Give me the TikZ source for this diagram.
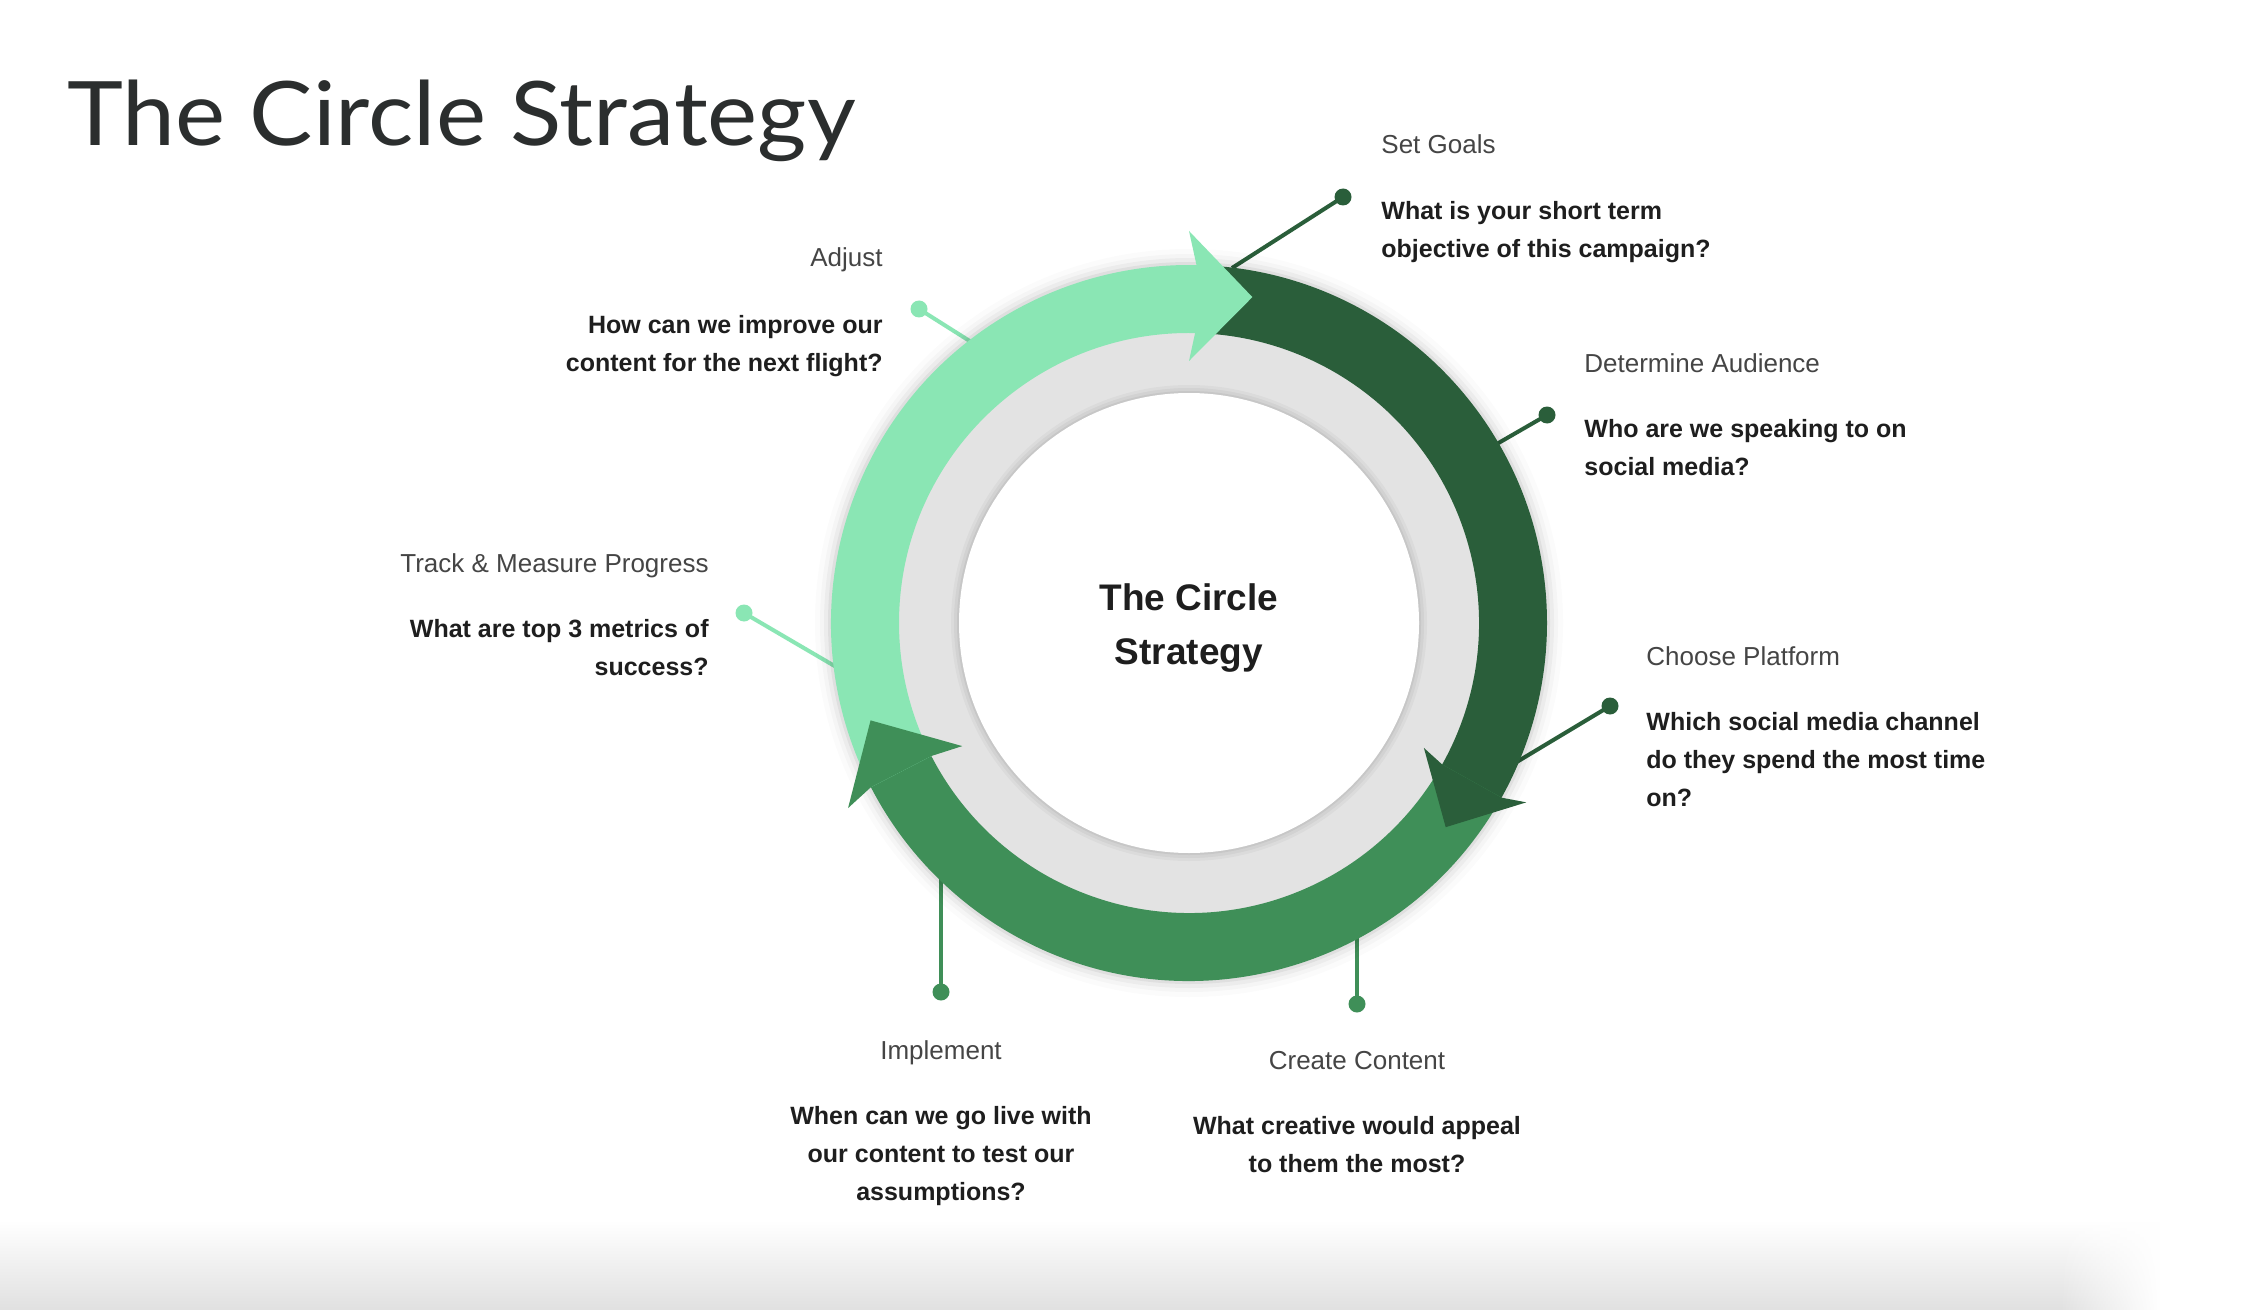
\documentclass[tikz,border=0pt]{standalone}
\usepackage{fontspec}
\setmainfont{Liberation Sans}
\newfontfamily\titlefont{Lato}
\usetikzlibrary{calc,fadings}
\definecolor{mint}{HTML}{8AE6B4}
\definecolor{forest}{HTML}{2A5E3A}
\definecolor{leaf}{HTML}{3F8F58}
\definecolor{ringgrey}{HTML}{E3E3E3}
\definecolor{labelgrey}{HTML}{454545}
\definecolor{qblack}{HTML}{1E1E1E}
\definecolor{titlegrey}{HTML}{2B2E2E}
\begin{document}
\begin{tikzpicture}[x=0.5pt,y=0.5pt,
  lbl/.style={font=\fontsize{13}{19}\selectfont, text=labelgrey, inner sep=0},
  qst/.style={font=\bfseries\fontsize{12.5}{19}\selectfont, text=qblack, inner sep=0},
  dotnode/.style={circle, inner sep=0, minimum size=8.5pt, fill=#1},
  conn/.style={line width=2pt, draw=#1},
]
\path[use as bounding box, fill=white] (0,0) rectangle (2252,-1310);
\shade[top color=white, bottom color=black!12] (0,-1220) rectangle (2060,-1310);
\shade[top color=white, bottom color=black!12, path fading=east] (2059,-1220) rectangle (2160,-1310);

% title
\node[anchor=base west, inner sep=0, font=\titlefont\fontsize{44.5}{50}\selectfont, text=titlegrey] (title) at (67,-146) {\scalebox{1.065}[1]{The Circle Strategy}};

\coordinate (C) at (1189,-623);

% connector end points on the ring and dots
\coordinate (rgoals) at (1232,-268);
\coordinate (raud) at (1495,-445);
\coordinate (rplat) at (1510,-766);
\coordinate (rcreate) at (1357,-925);
\coordinate (rimpl) at (941,-872);
\coordinate (rtrack) at (838,-668);
\coordinate (radj) at (976,-345);

\node[dotnode=forest] (dgoals) at (1343,-197) {};
\node[dotnode=forest] (daud) at (1547,-415) {};
\node[dotnode=forest] (dplat) at (1610,-706) {};
\node[dotnode=leaf] (dcreate) at (1357,-1004) {};
\node[dotnode=leaf] (dimpl) at (941,-992) {};
\node[dotnode=mint] (dtrack) at (744,-613) {};
\node[dotnode=mint] (dadj) at (919,-309) {};

\draw[conn=forest] (rgoals) -- (dgoals.center);
\draw[conn=forest] (raud) -- (daud.center);
\draw[conn=forest] (rplat) -- (dplat.center);
\draw[conn=leaf] (rcreate) -- (dcreate.center);
\draw[conn=leaf] (rimpl) -- (dimpl.center);
\draw[conn=mint] (rtrack) -- (dtrack.center);
\draw[conn=mint] (radj) -- (dadj.center);

% soft shadow
\foreach \r/\o in {374/0.015,369/0.025,365/0.035,361/0.05}
  \fill[black, opacity=\o] (C) circle[radius=\r];

% grey ring and white centre
\fill[ringgrey] (C) circle[radius=292];
\foreach \r/\o in {238/0.03,235/0.04,232/0.05}
  \fill[black, opacity=\o] (C) circle[radius=\r];
\fill[white] (C) circle[radius=230];

% arc bodies (each starts at the shaft joint of the previous head and ends under its own head)
\fill[forest] ($(C)+(88.8:358)$) arc[start angle=88.8, end angle=-30, radius=358]
  -- ($(C)+(-30:290)$) arc[start angle=-30, end angle=88.8, radius=290] -- cycle;
\fill[leaf] ($(C)+(-29.2:358)$) arc[start angle=-29.2, end angle=-153.5, radius=358]
  -- ($(C)+(-153.5:290)$) arc[start angle=-153.5, end angle=-29.2, radius=290] -- cycle;
\fill[mint] ($(C)+(207.3:358)$) arc[start angle=207.3, end angle=88, radius=358]
  -- ($(C)+(88:290)$) arc[start angle=88, end angle=207.3, radius=290] -- cycle;

% arrow heads (barbs slightly swept back)
\fill[mint] ($(C)+(90:262)$) -- ($(C)+(79:332)$) -- ($(C)+(90:392)$)
  -- ($(C)+(88.8:358)$) -- ($(C)+(88.8:290)$) -- cycle;
\fill[forest] ($(C)+(-28:266)$) -- ($(C)+(-38.5:328)$) -- ($(C)+(-28:382)$)
  -- ($(C)+(-29.2:358)$) -- ($(C)+(-29.2:290)$) -- cycle;
\fill[leaf] ($(C)+(208.5:258)$) -- ($(C)+(197:333)$) -- ($(C)+(208.5:388)$)
  -- ($(C)+(207.3:358)$) -- ($(C)+(207.3:290)$) -- cycle;

% centre text
\node[font=\bfseries\fontsize{18.5}{27}\selectfont, text=qblack, align=center, inner sep=0] (centre) at (1189,-628) {The Circle\\Strategy};

% labels
\node[lbl, anchor=base west] (lgoals) at (1381,-154) {Set Goals};
\node[qst, anchor=north west, align=left] (qgoals) at (1381,-201) {What is your short term\\objective of this campaign?};

\node[lbl, anchor=base west] (laud) at (1584,-372) {Determine Audience};
\node[qst, anchor=north west, align=left] (qaud) at (1584,-419) {Who are we speaking to on\\social media?};

\node[lbl, anchor=base west] (lplat) at (1646,-665) {Choose Platform};
\node[qst, anchor=north west, align=left] (qplat) at (1646,-712) {Which social media channel\\do they spend the most time\\on?};

\node[lbl, anchor=base] (lcreate) at (1357,-1069) {Create Content};
\node[qst, anchor=north, align=center] (qcreate) at (1357,-1116) {What creative would appeal\\to them the most?};

\node[lbl, anchor=base] (limpl) at (941,-1059) {Implement};
\node[qst, anchor=north, align=center] (qimpl) at (941,-1106) {When can we go live with\\our content to test our\\assumptions?};

\node[lbl, anchor=base east] (ltrack) at (709,-572) {Track \& Measure Progress};
\node[qst, anchor=north east, align=right] (qtrack) at (709,-619) {What are top 3 metrics of\\success?};

\node[lbl, anchor=base east] (ladj) at (883,-267) {Adjust};
\node[qst, anchor=north east, align=right] (qadj) at (883,-315) {How can we improve our\\content for the next flight?};
\end{tikzpicture}
\end{document}
